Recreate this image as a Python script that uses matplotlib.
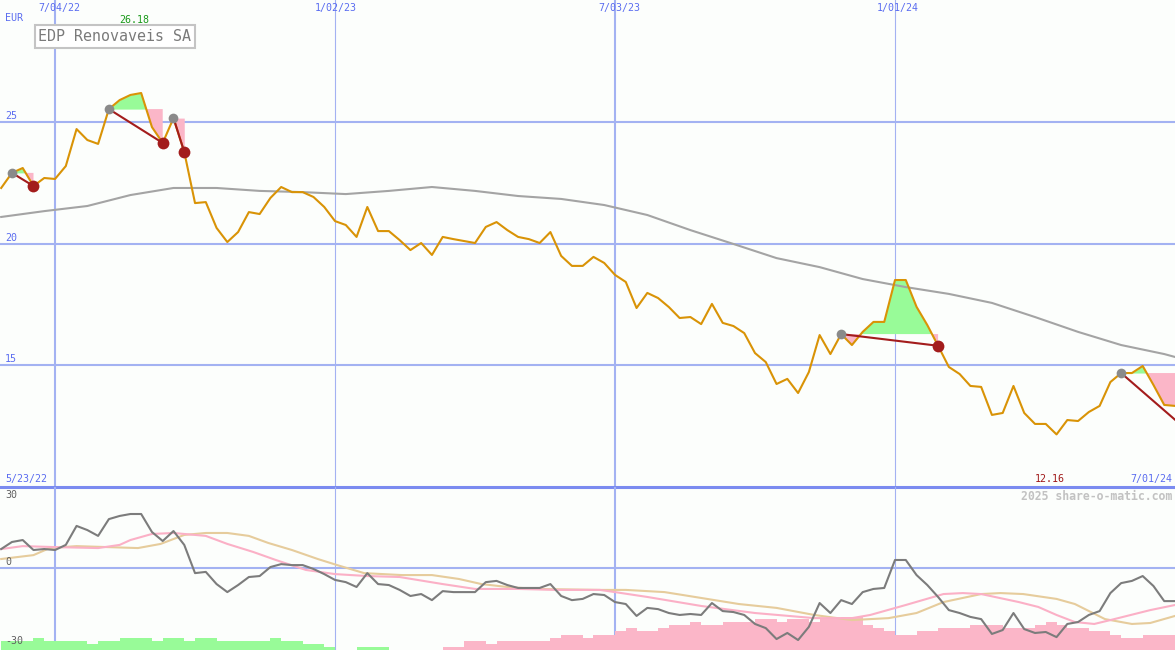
import numpy as np
import matplotlib.pyplot as plt

W, H = 1175, 650

# weekly closes, week 0 = 5/30/22
price = [22.28, 22.90, 23.10, 22.36, 22.69, 22.65, 23.18, 24.70, 24.25, 24.09,
         25.52, 25.89, 26.10, 26.18, 24.78, 24.13, 25.15, 23.76, 21.66, 21.70,
         20.64, 20.06, 20.47, 21.29, 21.21, 21.87, 22.32, 22.11, 22.11, 21.91,
         21.50, 20.92, 20.76, 20.27, 21.50, 20.51, 20.51, 20.14, 19.73, 20.02,
         19.53, 20.27, 20.18, 20.10, 20.02, 20.68, 20.88, 20.55, 20.27, 20.18,
         20.02, 20.47, 19.49, 19.08, 19.08, 19.45, 19.20, 18.71, 18.42, 17.35,
         17.97, 17.76, 17.39, 16.94, 16.98, 16.69, 17.52, 16.74, 16.61, 16.32,
         15.50, 15.13, 14.23, 14.44, 13.86, 14.72, 16.24, 15.46, 16.28, 15.83,
         16.37, 16.78, 16.78, 18.50, 18.50, 17.40, 16.65, 15.80, 14.93, 14.64,
         14.15, 14.11, 12.96, 13.04, 14.15, 13.04, 12.59, 12.59, 12.16, 12.75,
         12.71, 13.08, 13.33, 14.31, 14.68, 14.68, 14.97, 14.19, 13.37, 13.33]
weeks = np.arange(len(price))

# long moving average (upper panel)
ma_weeks = [0, 4, 8, 12, 16, 20, 24, 28, 32, 36, 40, 44, 48, 52, 56, 60, 64,
            68, 72, 76, 80, 84, 88, 92, 96, 100, 104, 108, 109]
ma_vals = [21.09, 21.33, 21.54, 21.99, 22.28, 22.28, 22.16, 22.11, 22.03, 22.16,
           22.32, 22.16, 21.95, 21.83, 21.58, 21.17, 20.55, 19.98, 19.40, 19.03,
           18.54, 18.21, 17.93, 17.56, 16.98, 16.37, 15.83, 15.46, 15.34]

# trades: entry week, exit week
trade_in = [1, 10, 16, 78, 104]
trade_out = [3, 15, 17, 87, 110]
open_exit = 12.38

# lower panel oscillator
osc = [7.8, 10.7, 11.5, 7.4, 7.8, 7.4, 9.5, 17.3, 15.6, 13.2,
       20.1, 21.4, 22.2, 22.2, 14.8, 11.1, 15.2, 9.5, -2.1, -1.6,
       -6.6, -9.9, -7.0, -3.7, -3.3, 0.4, 1.6, 1.2, 1.2, -0.4,
       -2.5, -4.9, -5.8, -7.8, -2.1, -6.6, -7.0, -9.0, -11.5, -10.7,
       -13.2, -9.5, -9.9, -9.9, -9.9, -5.8, -5.3, -7.0, -8.2, -8.2,
       -8.2, -6.6, -11.5, -13.2, -12.7, -10.7, -11.1, -14.0, -14.8, -19.7,
       -16.4, -16.9, -18.5, -19.3, -18.9, -19.3, -14.4, -17.7, -18.1, -19.3,
       -23.0, -24.7, -29.2, -26.7, -29.6, -24.2, -14.4, -18.5, -13.2, -14.8,
       -9.9, -8.6, -8.2, 3.3, 3.3, -2.9, -7.0, -11.9, -17.3, -18.5,
       -20.1, -21.0, -27.1, -25.5, -18.5, -25.1, -26.7, -26.3, -28.4, -23.0,
       -22.2, -19.3, -17.7, -10.3, -6.2, -5.3, -3.3, -7.4, -13.6, -13.6]

pink_k = [0, 2, 5, 9, 11, 12, 14, 16, 17, 19, 21, 23.4, 25.5, 28.3, 31, 34, 37,
          41, 44, 48, 51.5, 55.6, 57, 60, 65, 70, 75.5, 79, 80.7, 84, 87.5, 89.3,
          91, 94.5, 96.3, 98, 99.7, 101.5, 103, 106.7, 109]
pink_vals = [7.8, 9.0, 8.6, 8.2, 9.5, 11.5, 14.0, 14.4, 14.0, 13.2, 9.9, 6.6, 3.3,
             -0.8, -2.5, -3.3, -3.7, -6.6, -8.6, -8.6, -9.0, -9.0, -9.9, -11.9,
             -15.6, -18.5, -20.6, -20.6, -19.3, -15.2, -10.7, -10.3, -10.7, -14.0,
             -16.0, -19.3, -22.2, -23.0, -21.4, -17.3, -15.2]

tan_k = [0, 3, 4.5, 7, 12.7, 14.8, 17, 19, 21, 23, 24.8, 27, 29.4, 31.2, 33.7,
         37.2, 40, 42.5, 44.6, 47, 49.7, 55.6, 58, 61.6, 63.3, 68.5, 72, 75.5, 79,
         82.4, 85, 87.5, 91, 92.8, 94.9, 98, 99.7, 102.5, 105, 106.7, 109]
tan_vals = [3.7, 5.3, 8.2, 9.0, 8.2, 9.9, 13.6, 14.4, 14.4, 13.2, 10.3, 7.4, 3.7,
            1.2, -2.1, -2.9, -2.9, -4.5, -6.6, -7.8, -8.6, -9.0, -9.0, -9.9, -11.1,
            -14.8, -16.4, -19.3, -21.4, -20.6, -18.5, -14.0, -10.7, -10.3, -10.7,
            -12.7, -14.8, -21.0, -23.0, -22.6, -19.7]

# bottom bars (positive green, negative pink)
bars = [3.7, 3.7, 3.7, 4.9, 3.7, 3.7, 3.7, 3.7, 2.6, 3.7,
        3.7, 4.9, 4.9, 4.9, 3.7, 4.9, 4.9, 3.7, 4.9, 4.9,
        3.7, 3.7, 3.7, 3.7, 3.7, 4.9, 3.7, 3.7, 2.6, 2.6,
        1.2, 0, 0, 1.2, 1.2, 1.2, 0, 0, 0, 0,
        0, -1.2, -1.2, -3.7, -3.7, -2.6, -3.7, -3.7, -3.7, -3.7,
        -3.7, -4.9, -6.2, -6.2, -4.9, -6.3, -6.3, -7.8, -9.0, -7.8,
        -7.8, -9.0, -10.4, -10.4, -11.5, -10.4, -10.4, -11.5, -11.5, -11.5,
        -12.7, -12.7, -11.5, -12.7, -12.7, -11.5, -12.7, -12.7, -13.6, -13.6,
        -10.4, -9.0, -7.8, -6.3, -6.3, -7.8, -7.8, -9.0, -9.0, -9.0,
        -10.4, -10.4, -10.4, -9.0, -9.0, -9.0, -10.4, -11.5, -10.4, -9.0,
        -9.0, -7.8, -7.8, -6.3, -4.9, -4.9, -6.3, -6.3, -6.3, -6.3]

grid_c = '#a3b2f2'
green = '#98fb98'
pink = '#fbb6c8'
bg = '#fcfefc'
mono = 'DejaVu Sans Mono'

fig = plt.figure(figsize=(W / 100, H / 100), dpi=100, facecolor=bg)
ax1 = fig.add_axes([0, 163 / H, 1, 487 / H])
ax2 = fig.add_axes([0, 0, 1, 163 / H])
xlim = (-0.11, 109.0)

for ax in (ax1, ax2):
    ax.set_facecolor(bg)
    ax.set_xlim(*xlim)
    ax.axis('off')
    ax.axvline(5, color=grid_c, lw=1.5, zorder=0)
    ax.axvline(57, color=grid_c, lw=1.5, zorder=0)
    ax.axvline(31, color=grid_c, lw=0.8, zorder=0)
    ax.axvline(83, color=grid_c, lw=0.8, zorder=0)

# upper panel
ax1.set_ylim(10, 30)
for lvl in [25, 20, 15]:
    ax1.axhline(lvl, color=grid_c, lw=1.5, zorder=0)
ax1.axhline(10.0, color='#7b8bf0', lw=2.2, zorder=5, clip_on=False)

p = np.array(price)
for a, b in zip(trade_in, trade_out):
    e = min(b, len(p) - 1)
    xs = weeks[a:e + 1]
    ys = p[a:e + 1]
    ax1.fill_between(xs, ys, p[a], where=ys >= p[a], interpolate=True,
                     color=green, lw=0, zorder=1)
    ax1.fill_between(xs, ys, p[a], where=ys <= p[a], interpolate=True,
                     color=pink, lw=0, zorder=1)

ax1.plot(ma_weeks, ma_vals, color='#a4a4a4', lw=1.5, zorder=2)
ax1.plot(weeks, price, color='#d99306', lw=1.5, zorder=3)

for a, b in zip(trade_in, trade_out):
    y_out = p[b] if b < len(p) else open_exit
    ax1.plot([a, b], [p[a], y_out], color='#a31c1c', lw=1.5, zorder=4)
    ax1.plot(a, p[a], 'o', color='#8a8a8a', ms=7, mec='none', zorder=5)
    if b < len(p):
        ax1.plot(b, p[b], 'o', color='#a31c1c', ms=8.5, mec='none', zorder=5)

# lower panel
ax2.set_ylim(-33.7, 33.3)
ax2.axhline(0, color=grid_c, lw=1.5, zorder=0)
bar_cols = [green if v > 0 else pink for v in bars]
ax2.bar(weeks, np.abs(bars), width=1.0, align='edge', bottom=-33.7,
        color=bar_cols, lw=0, zorder=1)
ax2.plot(tan_k, tan_vals, color='#e6cc9c', lw=1.5, zorder=2)
ax2.plot(pink_k, pink_vals, color='#fbb0c6', lw=1.5, zorder=2)
ax2.plot(weeks, osc, color='#7c7c7c', lw=1.5, zorder=3)


def ftext(x, y, s, **kw):
    kw.setdefault('family', mono)
    kw.setdefault('fontsize', 7.2)
    kw.setdefault('va', 'center')
    fig.text(x / W, 1 - y / H, s, **kw)


blue = '#5a6cf0'
ftext(5, 18, 'EUR', color=blue)
for xx, lab in [(59, '7/04/22'), (336, '1/02/23'), (619, '7/03/23'), (898, '1/01/24')]:
    ftext(xx, 8, lab, color=blue, ha='center')
for yy, lab in [(116, '25'), (238, '20'), (359, '15')]:
    ftext(5, yy, lab, color=blue)
ftext(134, 20, '26.18', color='#1a9a1a', ha='center')
ftext(115, 36.5, 'EDP Renovaveis SA', color='#7a7a7a', ha='center', fontsize=10.8,
      bbox=dict(boxstyle='square,pad=0.25', fc='white', ec='#c4c4c4', lw=1.5))
ftext(5, 479, '5/23/22', color=blue)
ftext(1050, 479, '12.16', color='#a01818', ha='center')
ftext(1172, 479, '7/01/24', color=blue, ha='right')
ftext(1172, 496, '2025 share-o-matic.com', color='#c2c2c2', ha='right',
      fontsize=8.3, fontweight='bold')
ftext(5, 495, '30', color='#606060')
ftext(5, 562, '0', color='#606060')
ftext(5, 641, '-30', color='#606060')

fig.savefig('out.png', dpi=100, facecolor=bg)
